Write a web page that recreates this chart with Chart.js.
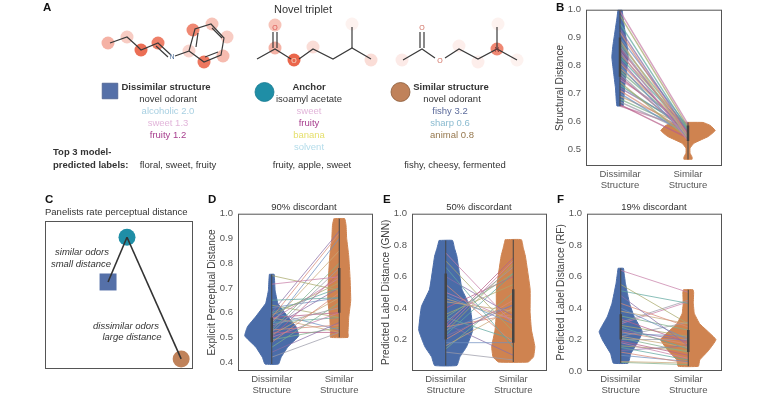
<!DOCTYPE html>
<html>
<head>
<meta charset="utf-8">
<script src="https://cdn.jsdelivr.net/npm/chart.js@4/dist/chart.umd.min.js"></script>
<style>
html, body { margin: 0; padding: 0; background: #fff; }
#page { position: absolute; left: 0; top: 0; width: 768px; height: 403px; overflow: hidden; filter: blur(0.4px);
  font-family: 'Liberation Sans', Arial, sans-serif; color: #333; font-size: 9.5px; }
#page canvas { position: absolute; }
.t { position: absolute; white-space: nowrap; transform: translate(-50%, -50%); line-height: 1; }
.l { position: absolute; white-space: nowrap; transform: translateY(-50%); line-height: 1; }
.b { font-weight: bold; }
.p { font-weight: bold; font-size: 11.5px; color: #111; }
.i { font-style: italic; }
</style>
</head>
<body>
<div id="page">
  <canvas id="molecules" width="768" height="403" style="left:0;top:0"></canvas>
  <canvas id="panelC" width="148" height="148" style="left:45px;top:221px"></canvas>
  <canvas id="panelB" width="169" height="201" style="left:554px;top:-1px"></canvas>
  <canvas id="panelD" width="168" height="202" style="left:206px;top:203px"></canvas>
  <canvas id="panelE" width="168" height="202" style="left:380px;top:203px"></canvas>
  <canvas id="panelF" width="168" height="202" style="left:555px;top:203px"></canvas>

  <div class="l p" style="left:43px;top:8px">A</div>
  <div class="t" style="left:303px;top:9px;font-size:11px">Novel triplet</div>

  <div class="t b" style="left:166px;top:87px">Dissimilar structure</div>
  <div class="t" style="left:168px;top:99px">novel odorant</div>
  <div class="t" style="left:168px;top:111px;color:#a8d0e2">alcoholic 2.0</div>
  <div class="t" style="left:168px;top:123px;color:#e2b6da">sweet 1.3</div>
  <div class="t" style="left:168px;top:135px;color:#a8408f">fruity 1.2</div>

  <div class="t b" style="left:309px;top:87px">Anchor</div>
  <div class="t" style="left:309px;top:99px">isoamyl acetate</div>
  <div class="t" style="left:309px;top:111px;color:#e2b6da">sweet</div>
  <div class="t" style="left:309px;top:123px;color:#a8408f">fruity</div>
  <div class="t" style="left:309px;top:135px;color:#e6e070">banana</div>
  <div class="t" style="left:309px;top:147px;color:#b4dcea">solvent</div>

  <div class="t b" style="left:451px;top:87px">Similar structure</div>
  <div class="t" style="left:452px;top:99px">novel odorant</div>
  <div class="t" style="left:450px;top:111px;color:#5d6c9c">fishy 3.2</div>
  <div class="t" style="left:450px;top:123px;color:#8bbbd0">sharp 0.6</div>
  <div class="t" style="left:452px;top:135px;color:#96784e">animal 0.8</div>

  <div class="l b" style="left:53px;top:152px">Top 3 model-</div>
  <div class="l b" style="left:53px;top:165px">predicted labels:</div>
  <div class="t" style="left:178px;top:165px">floral, sweet, fruity</div>
  <div class="t" style="left:312px;top:165px">fruity, apple, sweet</div>
  <div class="t" style="left:455px;top:165px">fishy, cheesy, fermented</div>

  <div class="t" style="left:275px;top:27px;font-size:7px;color:#d9534f">O</div>
  <div class="t" style="left:294px;top:60px;font-size:7px;color:#f4e0d0">O</div>
  <div class="t" style="left:422px;top:27px;font-size:7px;color:#cf6a5c">O</div>
  <div class="t" style="left:440px;top:60px;font-size:7px;color:#cf6a5c">O</div>
  <div class="t" style="left:172px;top:56px;font-size:7px;color:#4f6f98">N</div>
  <div class="t" style="left:497px;top:49px;font-size:7px;color:#8a3a3a">N</div>

  <div class="l p" style="left:556px;top:8px">B</div>
  <div class="l p" style="left:45px;top:200px">C</div>
  <div class="l p" style="left:208px;top:200px">D</div>
  <div class="l p" style="left:383px;top:200px">E</div>
  <div class="l p" style="left:557px;top:200px">F</div>

  <div class="l" style="left:45px;top:212px">Panelists rate perceptual distance</div>
  <div class="t" style="left:304px;top:207px">90% discordant</div>
  <div class="t" style="left:479px;top:207px">50% discordant</div>
  <div class="t" style="left:654px;top:207px">19% discordant</div>

  <div class="t i" style="left:82px;top:252px">similar odors</div>
  <div class="t i" style="left:81px;top:264px">small distance</div>
  <div class="t i" style="left:126px;top:326px">dissimilar odors</div>
  <div class="t i" style="left:132px;top:337px">large distance</div>
</div>

<script>
// colours used all over
const blue = '#4a6ca8';
const orange = '#cf8350';
const teal = '#1f8ea6';
const inkColor = '#444444';
const categoryLabels = [['Dissimilar', 'Structure'], ['Similar', 'Structure']];
const lineColors = ['#c77fa8', '#a8a86a', '#5fa8a0', '#8a6fa8', '#d98a7a', '#6f8fc0', '#c8a878', '#7fb08a', '#9a9aa8', '#b85f8a'];

// panel B
const bTicks = [0.5, 0.6, 0.7, 0.8, 0.9, 1.0];
const bDisY = [1.0, 0.97, 0.92, 0.87, 0.83, 0.78, 0.72, 0.66, 0.655];
const bDisW = [0.03, 0.045, 0.075, 0.105, 0.12, 0.097, 0.067, 0.05, 0.045];
const bSimY = [0.596, 0.585, 0.567, 0.546, 0.522, 0.504, 0.486, 0.472, 0.464];
const bSimW = [0.22, 0.33, 0.40, 0.30, 0.09, 0.03, 0.03, 0.06, 0.06];
const bLeft = [0.995, 0.98, 0.95, 0.93, 0.92, 0.90, 0.89, 0.88, 0.87, 0.86, 0.85, 0.84, 0.83, 0.82, 0.81, 0.80, 0.79, 0.78, 0.77, 0.76, 0.75, 0.74, 0.73, 0.72, 0.71, 0.70, 0.69, 0.68, 0.67, 0.66, 0.655];
const bRight = [0.59, 0.58, 0.57, 0.56, 0.55, 0.58, 0.54, 0.57, 0.55, 0.56, 0.53, 0.58, 0.57, 0.55, 0.56, 0.54, 0.58, 0.57, 0.55, 0.56, 0.59, 0.54, 0.57, 0.58, 0.56, 0.55, 0.58, 0.57, 0.56, 0.54, 0.575];

// panel D
const dTicks = [0.4, 0.5, 0.6, 0.7, 0.8, 0.9, 1.0];
const dDisY = [0.755, 0.74, 0.69, 0.638, 0.583, 0.543, 0.506, 0.462, 0.42, 0.392];
const dDisW = [0.035, 0.04, 0.05, 0.09, 0.24, 0.36, 0.40, 0.24, 0.14, 0.10];
const dSimY = [0.98, 0.955, 0.90, 0.83, 0.74, 0.65, 0.58, 0.52, 0.50];
const dSimW = [0.08, 0.10, 0.11, 0.14, 0.16, 0.17, 0.14, 0.13, 0.13];
const dLeft = [0.715, 0.75, 0.65, 0.60, 0.58, 0.55, 0.56, 0.53, 0.52, 0.50, 0.57, 0.59, 0.60, 0.54, 0.48, 0.62, 0.51, 0.46, 0.55, 0.58, 0.50, 0.63, 0.56, 0.44, 0.53, 0.60, 0.58, 0.49, 0.42, 0.52];
const dRight = [0.745, 0.69, 0.66, 0.93, 0.92, 0.90, 0.85, 0.80, 0.78, 0.76, 0.74, 0.72, 0.70, 0.70, 0.68, 0.66, 0.66, 0.64, 0.62, 0.60, 0.60, 0.58, 0.58, 0.56, 0.55, 0.53, 0.52, 0.54, 0.52, 0.52];

// panel E
const eTicks = [0.2, 0.4, 0.6, 0.8, 1.0];
const eDisY = [0.83, 0.78, 0.73, 0.52, 0.41, 0.26, 0.155, 0.09, 0.035];
const eDisW = [0.10, 0.13, 0.165, 0.24, 0.36, 0.40, 0.31, 0.21, 0.165];
const eSimY = [0.835, 0.78, 0.73, 0.52, 0.37, 0.26, 0.155, 0.09, 0.057];
const eSimW = [0.12, 0.15, 0.18, 0.25, 0.25, 0.27, 0.32, 0.30, 0.22];
const eLeft = [0.75, 0.70, 0.66, 0.60, 0.55, 0.48, 0.44, 0.34, 0.31, 0.29, 0.27, 0.25, 0.23, 0.22, 0.20, 0.18, 0.16, 0.14, 0.12, 0.40, 0.50, 0.36, 0.34, 0.30, 0.28, 0.26, 0.46];
const eRight = [0.30, 0.25, 0.15, 0.35, 0.18, 0.30, 0.38, 0.62, 0.66, 0.72, 0.70, 0.68, 0.62, 0.42, 0.45, 0.18, 0.40, 0.50, 0.07, 0.60, 0.32, 0.55, 0.20, 0.10, 0.36, 0.42, 0.33];

// panel F
const fTicks = [0.0, 0.2, 0.4, 0.6, 0.8, 1.0];
const fDisY = [0.653, 0.62, 0.557, 0.43, 0.345, 0.25, 0.196, 0.11, 0.05];
const fDisW = [0.04, 0.05, 0.07, 0.13, 0.20, 0.32, 0.27, 0.15, 0.11];
const fSimY = [0.517, 0.50, 0.43, 0.366, 0.30, 0.20, 0.13, 0.07, 0.03];
const fSimW = [0.07, 0.08, 0.075, 0.09, 0.17, 0.41, 0.30, 0.17, 0.15];
const fLeft = [0.64, 0.55, 0.51, 0.48, 0.43, 0.40, 0.38, 0.35, 0.31, 0.33, 0.30, 0.29, 0.28, 0.26, 0.25, 0.24, 0.22, 0.21, 0.20, 0.19, 0.18, 0.16, 0.15, 0.13, 0.12, 0.10, 0.06, 0.055, 0.22];
const fRight = [0.50, 0.30, 0.43, 0.16, 0.28, 0.20, 0.30, 0.26, 0.45, 0.18, 0.44, 0.22, 0.14, 0.19, 0.17, 0.22, 0.15, 0.12, 0.20, 0.10, 0.08, 0.13, 0.07, 0.16, 0.05, 0.06, 0.05, 0.04, 0.31];

// panel C, axes run 0 to 1 over the box
const cNames = ['anchor', 'similar', 'dissimilar'];
const cX = [0.554, 0.426, 0.92];
const cY = [0.89, 0.588, 0.068];

const atomX = [108, 127, 141, 158, 193, 212, 227, 223, 204, 189, 275, 275, 294, 313, 352, 371, 402, 459, 478, 497, 498, 517];
const atomY = [43, 37, 50, 43, 30, 24, 37, 56, 62, 51, 25, 48, 60, 47, 24, 60, 60, 46, 62, 49, 24, 60];
const atomHeat = [0.45, 0.3, 0.85, 0.75, 0.7, 0.35, 0.3, 0.4, 0.8, 0.25, 0.35, 0.45, 0.9, 0.2, 0.08, 0.2, 0.12, 0.1, 0.1, 0.7, 0.08, 0.08];
const bonds = [
  [[110, 43], [127, 37], [137, 46], [141, 50], [158, 43], [171, 55]],
  [[156, 46], [168, 57]],
  [[175, 56], [189, 51], [195, 29], [211, 24], [224, 38], [221, 55], [204, 62], [189, 51]],
  [[196, 47], [198, 33]],
  [[212, 28], [222, 38]],
  [[205, 57], [218, 52]],
  [[257, 59], [275, 49], [291, 59]],
  [[273, 48], [273, 32]],
  [[277, 48], [277, 32]],
  [[299, 59], [313, 49], [333, 59], [352, 48], [371, 59]],
  [[352, 48], [352, 27]],
  [[403, 60], [422, 49], [435, 58]],
  [[420, 48], [420, 32]],
  [[424, 48], [424, 32]],
  [[445, 58], [459, 49], [478, 59], [497, 49], [517, 60]],
  [[497, 49], [497, 27]]
];
const markerX = [110, 264.5, 400.5];
const markerY = [91, 92, 92];

// box around the plot area
const frame = {
  id: 'frame',
  afterDraw(chart) {
    const a = chart.chartArea;
    const ctx = chart.ctx;
    ctx.save();
    ctx.strokeStyle = '#555555';
    ctx.lineWidth = 1;
    ctx.strokeRect(a.left + 0.5, a.top + 0.5, a.width - 1, a.height - 1);
    ctx.restore();
  }
};

function violinOutline(center, ys, widths) {
  const pts = [];
  ys.forEach((y, i) => pts.push({ x: center - widths[i], y: y }));
  for (let i = ys.length - 1; i >= 0; i--) pts.push({ x: center + widths[i], y: ys[i] });
  pts.push(pts[0]);
  return pts;
}

function violinSet(center, ys, widths, color) {
  return {
    data: violinOutline(center, ys, widths),
    showLine: true, fill: 'shape', backgroundColor: color, borderColor: color,
    borderWidth: 1, pointRadius: 0, tension: 0.1, order: 20
  };
}

function stick(center, low, high, width) {
  return {
    data: [{ x: center, y: low }, { x: center, y: high }],
    showLine: true, borderColor: inkColor, borderWidth: width, pointRadius: 0, order: 5
  };
}

function makePanel(id, o) {
  const sets = [];
  o.left.forEach((v, i) => {
    sets.push({
      data: [{ x: 0, y: v }, { x: 1, y: o.right[i] }],
      showLine: true, borderColor: lineColors[i % lineColors.length] + 'bb',
      borderWidth: o.lineWidth || 1, pointRadius: 0, order: 10
    });
  });
  sets.push(stick(0, o.disY[o.disY.length - 1], o.disY[0], 1));
  sets.push(stick(1, o.simY[o.simY.length - 1], o.simY[0], 1));
  sets.push(stick(0, o.disBox[0], o.disBox[1], 2.5));
  sets.push(stick(1, o.simBox[0], o.simBox[1], 2.5));
  sets.push(violinSet(0, o.disY, o.disW, blue));
  sets.push(violinSet(1, o.simY, o.simW, orange));

  new Chart(document.getElementById(id), {
    type: 'scatter',
    data: { datasets: sets },
    plugins: [frame],
    options: {
      responsive: false,
      animation: false,
      layout: { autoPadding: false, padding: { top: 5, right: 1 } },
      plugins: { legend: { display: false }, tooltip: { enabled: false } },
      scales: {
        x: {
          type: 'linear', min: -0.5, max: 1.5,
          grid: { display: false, drawTicks: false },
          border: { display: false },
          afterBuildTicks: s => { s.ticks = [{ value: 0 }, { value: 1 }]; },
          afterFit: s => { s.height = 34; },
          ticks: {
            color: '#555555', padding: 3, maxRotation: 0, autoSkip: false,
            font: { family: 'Liberation Sans', size: 9.5, lineHeight: 1.12 },
            callback: v => categoryLabels[v]
          }
        },
        y: {
          min: o.yMin, max: 1.0,
          grid: { display: false, drawTicks: false },
          border: { display: false },
          afterBuildTicks: s => { s.ticks = o.ticks.map(v => ({ value: v })); },
          afterFit: s => { s.width = 32; },
          title: {
            display: true, text: o.title, color: '#444444', padding: 0,
            font: { family: 'Liberation Sans', size: 10.2 }
          },
          ticks: {
            color: '#555555', padding: 5,
            font: { family: 'Liberation Sans', size: 9.5 },
            callback: v => v.toFixed(1)
          }
        }
      }
    }
  });
}

makePanel('panelB', { title: 'Structural Distance', yMin: 0.44, ticks: bTicks, disY: bDisY, disW: bDisW, simY: bSimY, simW: bSimW, left: bLeft, right: bRight, disBox: [0.76, 0.9], simBox: [0.53, 0.585], lineWidth: 1.4 });
makePanel('panelD', { title: 'Explicit Perceptual Distance', yMin: 0.364, ticks: dTicks, disY: dDisY, disW: dDisW, simY: dSimY, simW: dSimW, left: dLeft, right: dRight, disBox: [0.48, 0.58], simBox: [0.60, 0.78] });
makePanel('panelE', { title: 'Predicted Label Distance (GNN)', yMin: 0, ticks: eTicks, disY: eDisY, disW: eDisW, simY: eSimY, simW: eSimW, left: eLeft, right: eRight, disBox: [0.2, 0.62], simBox: [0.18, 0.52] });
makePanel('panelF', { title: 'Predicted Label Distance (RF)', yMin: 0, ticks: fTicks, disY: fDisY, disW: fDisW, simY: fSimY, simW: fSimW, left: fLeft, right: fRight, disBox: [0.2, 0.36], simBox: [0.12, 0.26] });

// panel C
new Chart(document.getElementById('panelC'), {
  type: 'scatter',
  data: {
    datasets: [
      { data: [{ x: cX[0], y: cY[0] }, { x: cX[1], y: cY[1] }], showLine: true, borderColor: '#333333', borderWidth: 1.6, pointRadius: 0, order: 1 },
      { data: [{ x: cX[0], y: cY[0] }, { x: cX[2], y: cY[2] }], showLine: true, borderColor: '#333333', borderWidth: 1.6, pointRadius: 0, order: 1 },
      {
        data: cNames.map((n, i) => ({ x: cX[i], y: cY[i] })),
        pointStyle: ['circle', 'rect', 'circle'],
        pointRadius: [8.5, 12, 8.5],
        pointBackgroundColor: [teal, '#5570a8', '#c0825a'],
        pointBorderWidth: 0, order: 2
      }
    ]
  },
  plugins: [frame],
  options: {
    responsive: false,
    animation: false,
    layout: { autoPadding: false },
    plugins: { legend: { display: false }, tooltip: { enabled: false } },
    scales: {
      x: { display: false, min: 0, max: 1 },
      y: { display: false, min: 0, max: 1 }
    }
  }
});

// panel A
const moleculeSets = bonds.map(b => ({
  data: b.map(p => ({ x: p[0], y: p[1] })),
  showLine: true, borderColor: '#3a3a3a', borderWidth: 1.2, pointRadius: 0, order: 1
}));
moleculeSets.push({
  data: atomX.map((x, i) => ({ x: x, y: atomY[i] })),
  pointRadius: 6.5, pointBorderWidth: 0,
  pointBackgroundColor: atomHeat.map(h => 'rgba(232, 85, 55, ' + h + ')'),
  order: 2
});
moleculeSets.push({
  data: markerX.map((x, i) => ({ x: x, y: markerY[i] })),
  pointStyle: ['rect', 'circle', 'circle'],
  pointRadius: [11, 9.5, 9.5],
  pointBackgroundColor: ['#5570a8', teal, '#c0825a'],
  pointBorderColor: ['#4a5f8f', '#167a90', '#8a5a38'],
  pointBorderWidth: 0.8, order: 2
});

new Chart(document.getElementById('molecules'), {
  type: 'scatter',
  data: { datasets: moleculeSets },
  options: {
    responsive: false,
    animation: false,
    layout: { autoPadding: false },
    plugins: { legend: { display: false }, tooltip: { enabled: false } },
    scales: {
      x: { display: false, min: 0, max: 768 },
      y: { display: false, min: 0, max: 403, reverse: true }
    }
  }
});
</script>
</body>
</html>
